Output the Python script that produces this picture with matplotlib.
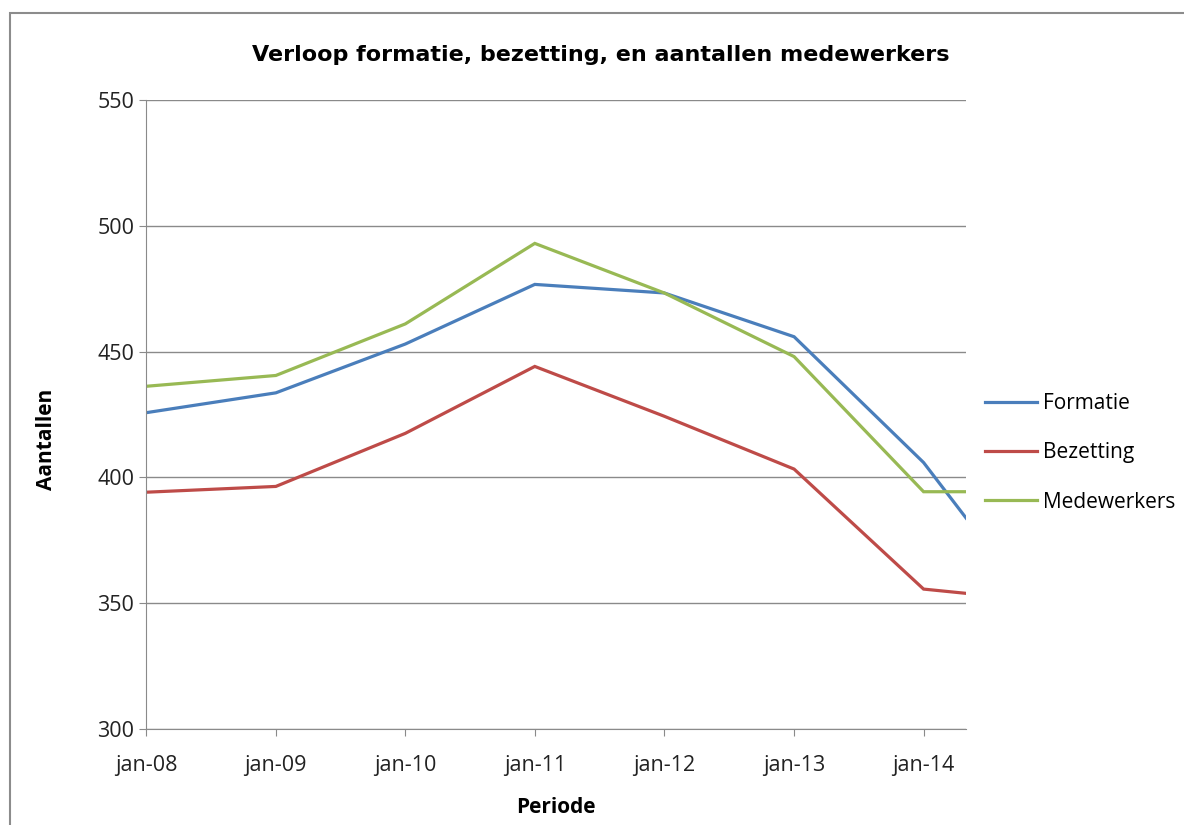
"""
Verloop formatie, bezetting en aantallen medewerkers, 2008-2014.
"""

import datetime as dt
import matplotlib
matplotlib.use('Agg')
import matplotlib.pyplot as plt
import matplotlib.dates as mdates
from matplotlib.patches import Rectangle

# Data
periods = [dt.date(2008, 1, 1), dt.date(2009, 1, 1), dt.date(2010, 1, 1), dt.date(2011, 1, 1),
           dt.date(2012, 1, 1), dt.date(2013, 1, 1), dt.date(2014, 1, 1), dt.date(2014, 5, 1)]
formatie = [425.7, 433.6, 453.0, 476.7, 473.3, 455.9, 405.9, 383.8]
bezetting = [394.1, 396.4, 417.5, 444.1, 424.3, 403.3, 355.6, 353.9]
medewerkers = [436.2, 440.5, 461.0, 493.0, 473.3, 448.0, 394.3, 394.3]

series_names = ['Formatie', 'Bezetting', 'Medewerkers']
series_colors = ['#4A7EBB', '#BE4B48', '#98B954']
y_ticks = [300, 350, 400, 450, 500, 550]


def main():
    plt.rcParams['font.family'] = ['Open Sans', 'DejaVu Sans']

    fig = plt.figure(figsize=(11.84, 8.25), dpi=100)
    ax = fig.add_axes([0.1233, 0.1164, 0.6927, 0.7624])

    # Outer chart border
    fig.patches.append(Rectangle((0.0084, -0.02), 1.1, 1.004, transform=fig.transFigure,
                                 fill=False, edgecolor='#8c8c8c', linewidth=1.5))

    for values, name, color in zip([formatie, bezetting, medewerkers], series_names, series_colors):
        ax.plot(periods, values, color=color, linewidth=2.3, label=name, solid_joinstyle='miter')

    ax.set_ylim(300, 550)
    ax.set_yticks(y_ticks)
    ax.set_xlim(periods[0], periods[-1])
    ax.xaxis.set_major_locator(mdates.YearLocator())
    ax.xaxis.set_major_formatter(mdates.DateFormatter('jan-%y'))

    ax.grid(axis='y', color='#8a8a8a', linewidth=1)
    ax.set_axisbelow(True)
    for side in ['top', 'right']:
        ax.spines[side].set_visible(False)
    for side in ['left', 'bottom']:
        ax.spines[side].set_color('#8a8a8a')
    ax.tick_params(axis='both', colors='#8a8a8a', labelcolor='#222222', labelsize=15.5, length=5)
    ax.tick_params(axis='x', pad=14)

    ax.set_title('Verloop formatie, bezetting, en aantallen medewerkers', fontsize=16,
                 fontweight='bold', pad=28, family='DejaVu Sans', x=0.555)
    ax.set_ylabel('Aantallen', fontsize=15, fontweight='bold')
    ax.yaxis.set_label_coords(-0.108, 0.46)
    ax.set_xlabel('Periode', fontsize=15, fontweight='bold')
    ax.xaxis.set_label_coords(0.5, -0.108)

    fig.legend(loc='center left', bbox_to_anchor=(0.816, 0.451), frameon=False, fontsize=15,
               handlelength=2.5, handletextpad=0.3, labelspacing=1.35)

    fig.savefig('out.png', dpi=100)


if __name__ == '__main__':
    main()
